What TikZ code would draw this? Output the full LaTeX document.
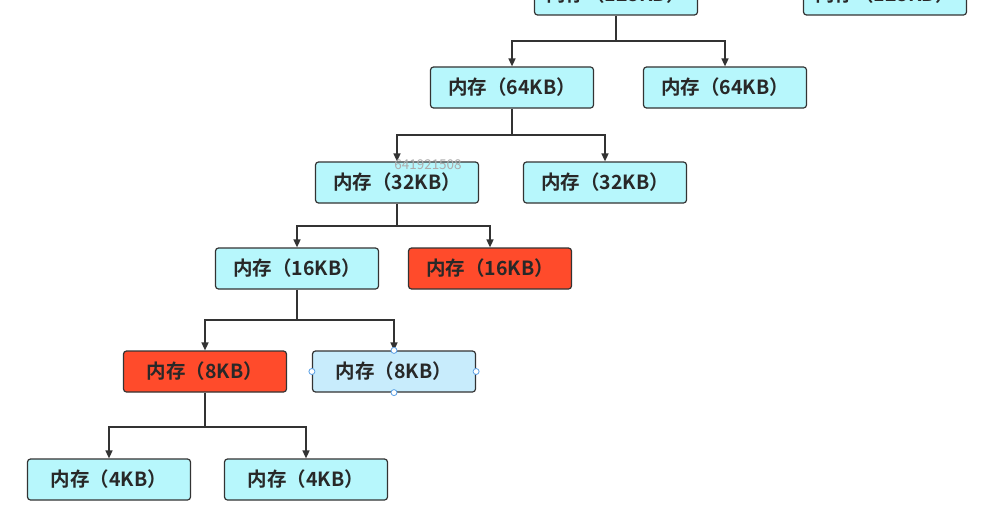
\documentclass[tikz,border=0pt]{standalone}
\usepackage{fontspec}
\setmainfont{Noto Sans CJK SC}
\newfontfamily\cjkb{Noto Sans CJK SC Bold}
\usetikzlibrary{arrows.meta}
\definecolor{boxfill}{RGB}{183,247,252}
\definecolor{redfill}{RGB}{255,75,43}
\definecolor{selfill}{RGB}{200,236,252}
\definecolor{edge}{RGB}{51,51,51}
\definecolor{txt}{RGB}{40,40,40}
\definecolor{handle}{RGB}{90,160,230}
\tikzset{
  mem/.style={draw=edge, line width=1.2pt, rounded corners=3pt, fill=boxfill,
    minimum width=163pt, minimum height=41pt, inner sep=0pt,
    font=\cjkb\fontsize{19.5}{22}\selectfont, text=txt},
  redmem/.style={mem, fill=redfill},
  selmem/.style={mem, fill=selfill},
  conn/.style={draw=edge, line width=1.5pt, -{Triangle[length=8pt,width=7pt]}},
  trunk/.style={draw=edge, line width=1.5pt},
  hnd/.style={circle, draw=handle, fill=white, line width=0.8pt, minimum size=6pt, inner sep=0pt},
}
\begin{document}
\begin{tikzpicture}[x=1pt,y=-1pt]
\useasboundingbox (0,0) rectangle (993,511);
\fill[white] (0,0) rectangle (993,511);
% nodes
\node[mem] (a128) at (616,-5.5) {内存（128KB）};
\node[mem] (b128) at (885,-5.5) {内存（128KB）};
\node[mem] (a64) at (512,87.5) {内存（64KB）};
\node[mem] (b64) at (725,87.5) {内存（64KB）};
\node[mem] (a32) at (397,182.5) {内存（32KB）};
\node[mem] (b32) at (605,182.5) {内存（32KB）};
\node[mem] (a16) at (297,268.5) {内存（16KB）};
\node[redmem] (b16) at (490,268.5) {内存（16KB）};
\node[redmem] (a8) at (205,371.5) {内存（8KB）};
\node[selmem] (b8) at (394,371.5) {内存（8KB）};
\node[mem] (a4) at (109,479.5) {内存（4KB）};
\node[mem] (b4) at (306,479.5) {内存（4KB）};
% connectors
\coordinate (j1) at (616,41);
\draw[trunk] (a128.south) -- (j1);
\draw[conn] (j1) -| (a64.north);
\draw[conn] (j1) -| (b64.north);
\coordinate (j2) at (512,135);
\draw[trunk] (a64.south) -- (j2);
\draw[conn] (j2) -| (a32.north);
\draw[conn] (j2) -| (b32.north);
\coordinate (j3) at (397,226);
\draw[trunk] (a32.south) -- (j3);
\draw[conn] (j3) -| (a16.north);
\draw[conn] (j3) -| (b16.north);
\coordinate (j4) at (297,320);
\draw[trunk] (a16.south) -- (j4);
\draw[conn] (j4) -| (a8.north);
\draw[conn] (j4) -| (b8.north);
\coordinate (j5) at (205,427);
\draw[trunk] (a8.south) -- (j5);
\draw[conn] (j5) -| (a4.north);
\draw[conn] (j5) -| (b4.north);
% selection handles
\node[hnd] (h1) at (b8.north) {};
\node[hnd] (h2) at (b8.south) {};
\node[hnd] (h3) at (b8.west) {};
\node[hnd] (h4) at (b8.east) {};
% watermark
\node[text=gray!65, font=\fontsize{13.5}{14}\selectfont, inner sep=0pt] (wm) at (428,164.5) {641921508};
\end{tikzpicture}
\end{document}
